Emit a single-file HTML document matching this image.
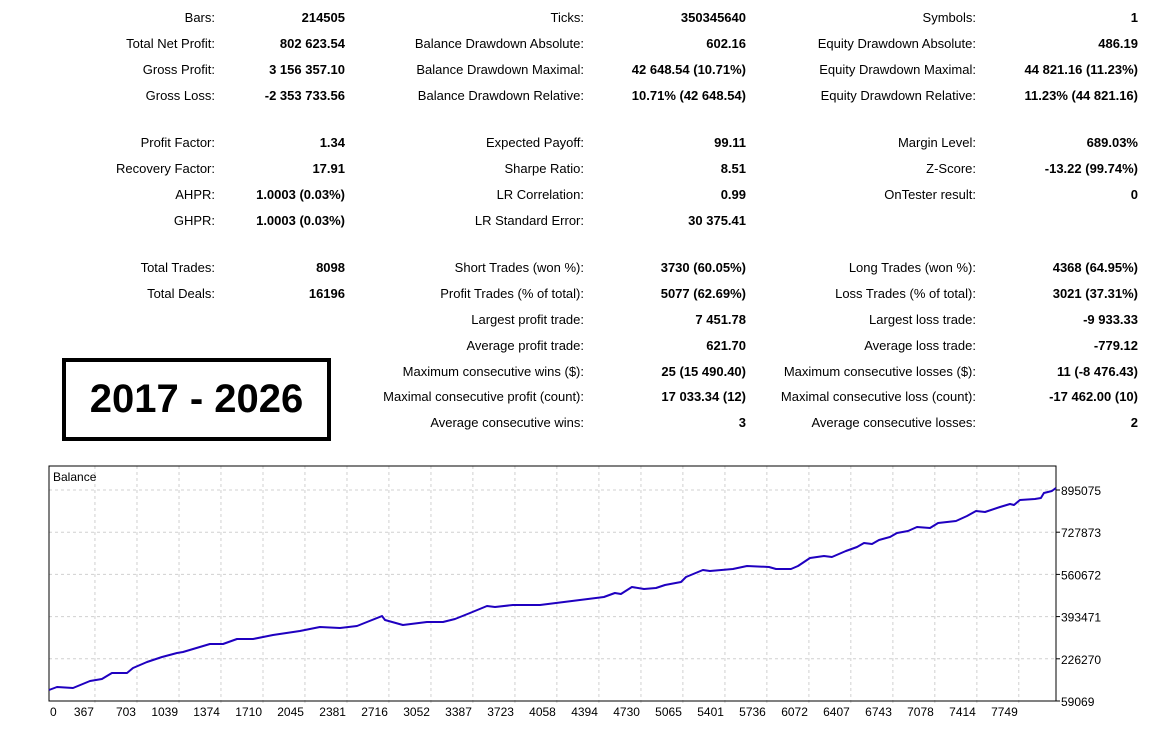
<!DOCTYPE html>
<html><head><meta charset="utf-8"><style>
html,body{margin:0;padding:0;background:#fff;width:1176px;height:734px;overflow:hidden}
body{position:relative;font-family:Tahoma,"Liberation Sans","DejaVu Sans",sans-serif;color:#000}
.l,.v{position:absolute;font-size:13px;white-space:nowrap;line-height:16px}
.v{font-weight:bold}
#box{position:absolute;left:62px;top:358px;width:261px;height:75px;border:4px solid #000;font-family:"Liberation Sans",sans-serif;font-weight:bold;font-size:40px;text-align:center;line-height:75px}
svg{position:absolute;left:0;top:0}
</style></head><body>
<div id="stats"></div>
<div id="box">2017 - 2026</div>
<svg id="chart" width="1176" height="734"></svg>
<script>
const rows=[
[[18,"Bars:","214505"],[18,"Ticks:","350345640"],[18,"Symbols:","1"]],
[[44,"Total Net Profit:","802 623.54"],[44,"Balance Drawdown Absolute:","602.16"],[44,"Equity Drawdown Absolute:","486.19"]],
[[70,"Gross Profit:","3 156 357.10"],[70,"Balance Drawdown Maximal:","42 648.54 (10.71%)"],[70,"Equity Drawdown Maximal:","44 821.16 (11.23%)"]],
[[96,"Gross Loss:","-2 353 733.56"],[96,"Balance Drawdown Relative:","10.71% (42 648.54)"],[96,"Equity Drawdown Relative:","11.23% (44 821.16)"]],
[[143,"Profit Factor:","1.34"],[143,"Expected Payoff:","99.11"],[143,"Margin Level:","689.03%"]],
[[169,"Recovery Factor:","17.91"],[169,"Sharpe Ratio:","8.51"],[169,"Z-Score:","-13.22 (99.74%)"]],
[[195,"AHPR:","1.0003 (0.03%)"],[195,"LR Correlation:","0.99"],[195,"OnTester result:","0"]],
[[221,"GHPR:","1.0003 (0.03%)"],[221,"LR Standard Error:","30 375.41"],null],
[[268,"Total Trades:","8098"],[268,"Short Trades (won %):","3730 (60.05%)"],[268,"Long Trades (won %):","4368 (64.95%)"]],
[[294,"Total Deals:","16196"],[294,"Profit Trades (% of total):","5077 (62.69%)"],[294,"Loss Trades (% of total):","3021 (37.31%)"]],
[null,[320,"Largest profit trade:","7 451.78"],[320,"Largest loss trade:","-9 933.33"]],
[null,[346,"Average profit trade:","621.70"],[346,"Average loss trade:","-779.12"]],
[null,[372,"Maximum consecutive wins ($):","25 (15 490.40)"],[372,"Maximum consecutive losses ($):","11 (-8 476.43)"]],
[null,[397,"Maximal consecutive profit (count):","17 033.34 (12)"],[397,"Maximal consecutive loss (count):","-17 462.00 (10)"]],
[null,[423,"Average consecutive wins:","3"],[423,"Average consecutive losses:","2"]]
];
const colL=[215,584,976], colV=[345,746,1138];
const st=document.getElementById('stats');
rows.forEach(r=>r.forEach((c,i)=>{ if(!c) return;
 const l=document.createElement('div'); l.className='l';
 
 
 l.style.right=(1176-colL[i])+'px'; l.style.top=(c[0]-8)+'px'; l.textContent=c[1]; st.appendChild(l);
 const v=document.createElement('div'); v.className='v';
 
 
 v.style.right=(1176-colV[i])+'px'; v.style.top=(c[0]-8)+'px'; v.textContent=c[2]; st.appendChild(v);
}));

const xTicks=[0,367,703,1039,1374,1710,2045,2381,2716,3052,3387,3723,4058,4394,4730,5065,5401,5736,6072,6407,6743,7078,7414,7749];
const yTicks=[59069,226270,393471,560672,727873,895075];
const tradeX=[0,64,192,328,423,503,623,671,783,903,1023,1071,1286,1390,1502,1630,1790,2005,2165,2325,2461,2541,2661,2685,2828,3020,3148,3244,3364,3500,3564,3707,3923,4434,4522,4570,4658,4754,4850,4922,5050,5090,5225,5281,5465,5577,5753,5809,5929,5985,6081,6193,6256,6368,6456,6512,6576,6632,6720,6776,6864,6936,7040,7104,7247,7335,7407,7479,7599,7679,7711,7758,7878,7926,7950,8014,8046];
const balanceK=[102.6,114.5,110.5,138.3,146.2,170.0,170.0,189.8,213.6,233.4,249.2,253.2,284.9,284.9,304.7,304.7,320.5,336.4,352.3,348.3,356.2,372.1,395.8,380.0,360.2,372.1,372.1,383.9,407.7,435.5,431.5,439.4,439.4,471.1,486.9,483.0,510.7,502.8,506.8,518.7,530.5,550.4,578.1,574.1,582.1,593.9,590.0,582.1,582.1,593.9,625.6,633.6,629.6,653.4,669.2,685.1,681.1,697.0,708.8,724.7,732.6,748.5,744.5,764.3,772.2,792.0,811.9,807.9,827.7,839.6,835.6,855.4,859.4,863.3,883.2,891.1,903.0];

const L=49,T=466,R=1056,B=701;
const xs=v=>L+v*(42/335.6);
const ys=v=>B-(v-59069)*(211/836006);
const svg=document.getElementById('chart'), NS='http://www.w3.org/2000/svg';
function mk(t,a){const e=document.createElementNS(NS,t);for(const k in a)e.setAttribute(k,a[k]);svg.appendChild(e);return e;}
xTicks.forEach((t,i)=>{ if(i===0)return;
 const g=mk('line',{x1:xs(t),x2:xs(t),y1:T,y2:B+4,stroke:'#d0d0d0','stroke-dasharray':'3,3'});
 
 
});
yTicks.forEach((t,i)=>{
 if(i>0){const g=mk('line',{x1:L,x2:R,y1:ys(t),y2:ys(t),stroke:'#d0d0d0','stroke-dasharray':'3,3'});
 
 }
 const tk=mk('line',{x1:R,x2:R+4,y1:ys(t),y2:ys(t),stroke:'#000'});
 
 
 const tx=mk('text',{x:R+5,y:ys(t)+5,'font-size':12,'font-family':'Tahoma,"Liberation Sans",sans-serif',fill:'#000'});
 tx.textContent=t;
 
 
});
xTicks.forEach((t,i)=>{
 const tx=mk('text',{x:i===0?xs(t)+1:xs(t)-1,y:B+15,'font-size':12,'font-family':'Tahoma,"Liberation Sans",sans-serif','text-anchor':i===0?'start':'end',fill:'#000'});
 tx.textContent=t;
 
 
});
const fr=mk('rect',{x:L,y:T,width:R-L,height:B-T,fill:'none',stroke:'#000','stroke-width':1});


const lab=mk('text',{x:L+4,y:T+15,'font-size':12,'font-family':'Tahoma,"Liberation Sans",sans-serif',fill:'#000'});
lab.textContent='Balance';


const pts=tradeX.map((x,i)=>xs(x).toFixed(1)+','+ys(balanceK[i]*1000).toFixed(1)).join(' ');
const pl=mk('polyline',{points:pts,fill:'none',stroke:'#1f00c0','stroke-width':2,'stroke-linejoin':'round'});


</script>
</body></html>
